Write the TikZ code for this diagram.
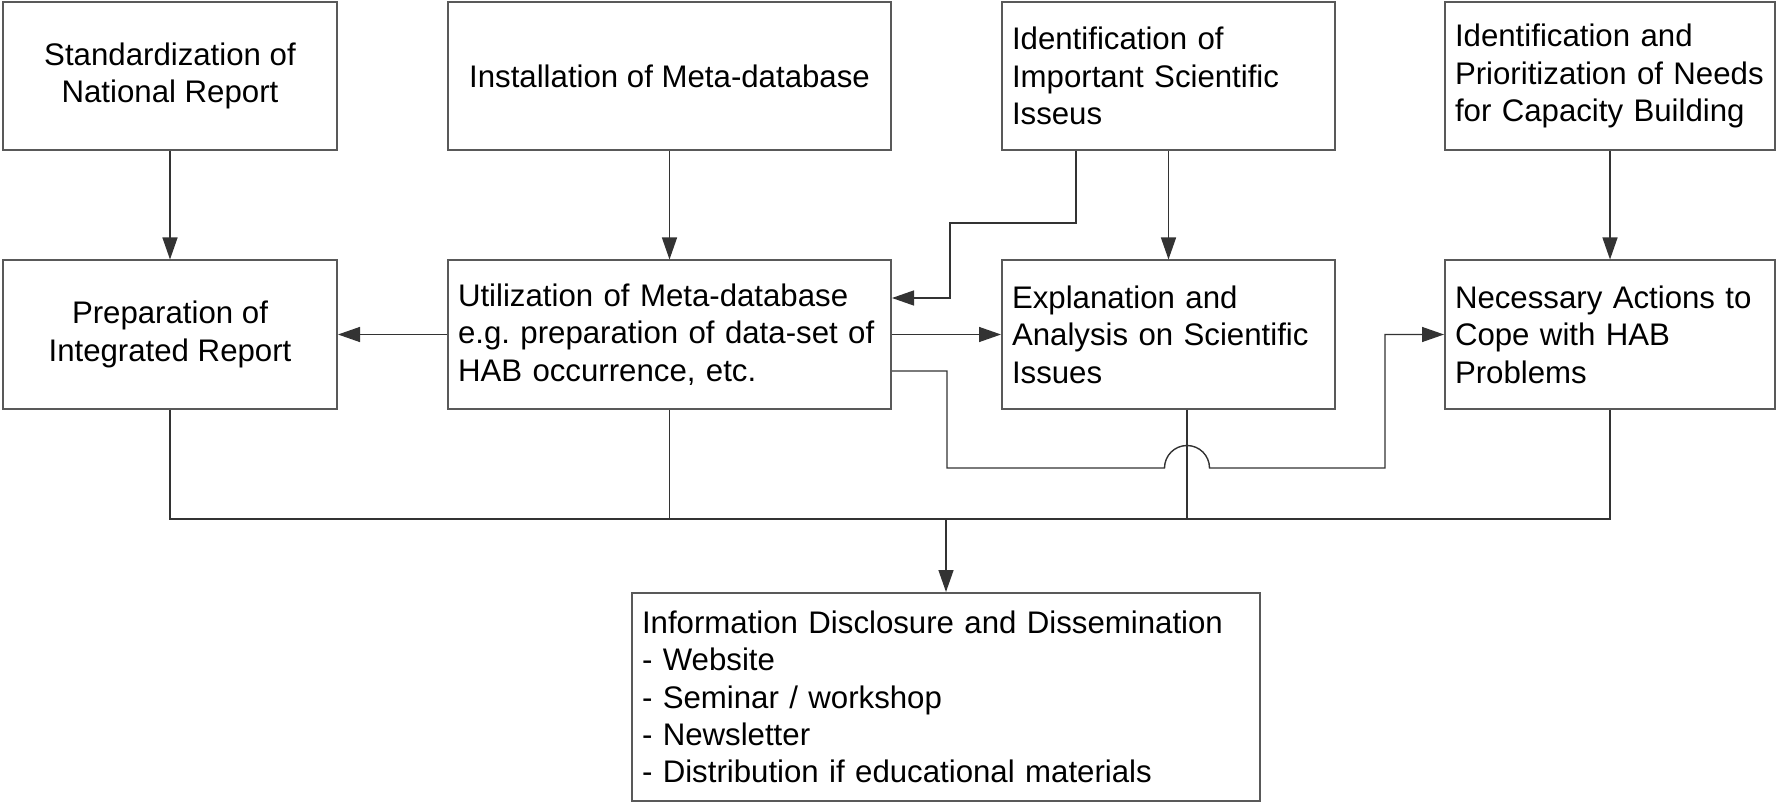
\documentclass[tikz,border=0pt]{standalone}
\usepackage{fontspec}
\setmainfont{Liberation Sans}
\usetikzlibrary{arrows.meta}

\begin{document}
\begin{tikzpicture}[
    x=0.5pt, y=0.5pt,
    font=\fontsize{15.6}{18.7}\selectfont,
    box/.style={rectangle, draw=black!65, line width=1pt, minimum height=74pt, inner xsep=5pt, align=center},
    lbox/.style={box, align=left, text width=#1},
    link/.style={draw=black!80, line width=0.7pt},
    arr/.style={link, -{Triangle[length=11pt, width=7.5pt]}}
]
\useasboundingbox (0,0) rectangle (1777,-802);

% Nodes
\node[box, minimum width=167pt] (std) at (170,-76) {Standardization of\\National Report};
\node[box, minimum width=221.5pt] (inst) at (669.5,-76) {Installation of Meta-database};
\node[lbox=156.5pt] (ident) at (1168.5,-76) {Identification of\\Important Scientific\\Isseus};
\node[lbox=155pt] (prio) at (1610,-76) {Identification and\\Prioritization of Needs\\for Capacity Building};
\node[box, minimum width=167pt] (prep) at (170,-334.5) {Preparation of\\Integrated Report};
\node[lbox=211.5pt] (util) at (669.5,-334.5) {Utilization of Meta-database\\\mbox{e.g.\ preparation of data-set of}\\HAB occurrence, etc.};
\node[lbox=156.5pt] (expl) at (1168.5,-334.5) {Explanation and\\Analysis on Scientific\\Issues};
\node[lbox=155pt] (act) at (1610,-334.5) {Necessary Actions to\\Cope with HAB\\Problems};
\node[lbox=304pt, minimum height=104pt] (info) at (946,-697) {Information Disclosure and Dissemination\\- Website\\- Seminar / workshop\\- Newsletter\\- Distribution if educational materials};

% Bends
\coordinate (b1) at (1076,-223);
\coordinate (b2) at (950,-298);
\coordinate (u3) at (947,-371);
\coordinate (c1) at (947,-468);
\coordinate (jc) at (1187,-468);
\coordinate (c2) at (1385,-334.5);
\coordinate (bus) at (946,-519);

% Arrows
\draw[arr] (std) -- (prep);
\draw[arr] (inst) -- (util);
\draw[arr] (ident) -- (expl);
\draw[arr] (prio) -- (act);
\draw[arr] (util) -- (prep);
\draw[arr] (util) -- (expl);
\draw[arr] (ident.south -| b1) -- (b1) -| (b2) -- (util.east |- b2);
\draw[arr] (util.east |- u3) -- (u3) -- (c1) -- ([xshift=-11.25pt]jc)
    arc[start angle=180, end angle=0, radius=11.25pt] -| (c2) -- (act.west);
\draw[link] (prep.south) |- (bus) -| (act.south);
\draw[link] (util.south) -- (util.south |- bus);
\draw[link] (expl.south -| jc) -- (jc |- bus);
\draw[arr] (bus) -- (info);

\end{tikzpicture}
\end{document}
